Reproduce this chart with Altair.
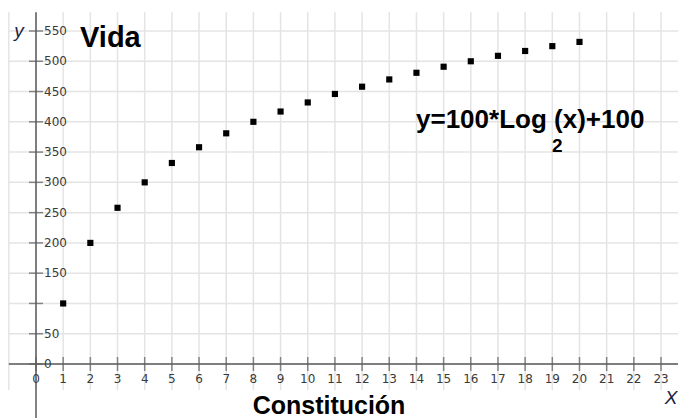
import altair as alt
import pandas as pd

# Data
x_vals = list(range(1, 21))
y_vals = [100, 200, 258, 300, 332, 358, 381, 400, 417, 432, 446, 458, 470, 481, 491, 500, 509, 517, 525, 532]

x_ticks = list(range(0, 24))
x_grid = list(range(-1, 24))
y_ticks = [0, 50, 100, 150, 200, 250, 300, 350, 400, 450, 500, 550]
y_labels = ["0", "50", "", "150", "200", "250", "300", "350", "400", "450", "500", "550"]

XD = [-1.3248, 23.625]
YD = [-89.2, 601.2]
xs = alt.Scale(domain=XD, nice=False, zero=False)
ys = alt.Scale(domain=YD, nice=False, zero=False)

pts = pd.DataFrame({"x": x_vals, "y": y_vals})
vg = pd.DataFrame({"x": x_grid, "y1": [581] * len(x_grid), "y2": [-43] * len(x_grid)})
hg = pd.DataFrame({"y": y_ticks, "x1": [-1] * len(y_ticks), "x2": [XD[1]] * len(y_ticks)})
xt = pd.DataFrame({"x": x_ticks, "lab": [str(v) for v in x_ticks], "y0": [0] * len(x_ticks)})
yt = pd.DataFrame({"y": y_ticks, "lab": y_labels, "x0": [0] * len(y_ticks)})

grid_c = "#e4e4e4"
ax_c = "#5a5a5a"

vgrid = alt.Chart(vg).mark_rule(color=grid_c, strokeWidth=1.5).encode(
    x=alt.X("x:Q", scale=xs, axis=None), y=alt.Y("y1:Q", scale=ys, axis=None), y2="y2:Q")
hgrid = alt.Chart(hg).mark_rule(color=grid_c, strokeWidth=1.5).encode(
    y=alt.Y("y:Q", scale=ys, axis=None), x=alt.X("x1:Q", scale=xs, axis=None), x2="x2:Q")

xaxis = alt.Chart(pd.DataFrame({"x1": [-1], "x2": [XD[1]], "y": [0]})).mark_rule(
    color=ax_c, strokeWidth=1.5).encode(
    x=alt.X("x1:Q", scale=xs, axis=None), x2="x2:Q", y=alt.Y("y:Q", scale=ys, axis=None))
yaxis = alt.Chart(pd.DataFrame({"y1": [581], "y2": [YD[0]], "x": [0]})).mark_rule(
    color=ax_c, strokeWidth=1.5).encode(
    y=alt.Y("y1:Q", scale=ys, axis=None), y2="y2:Q", x=alt.X("x:Q", scale=xs, axis=None))

xtick = alt.Chart(xt).mark_tick(color=ax_c, orient="vertical", size=14, thickness=1.5).encode(
    x=alt.X("x:Q", scale=xs, axis=None), y=alt.Y("y0:Q", scale=ys, axis=None))
ytick = alt.Chart(yt).mark_tick(color=ax_c, orient="horizontal", size=14, thickness=1.5).encode(
    y=alt.Y("y:Q", scale=ys, axis=None), x=alt.X("x0:Q", scale=xs, axis=None))

xlab = alt.Chart(xt).mark_text(font="DejaVu Sans", fontSize=12, color="#3a3a3a",
                               baseline="middle", dy=15).encode(
    x=alt.X("x:Q", scale=xs, axis=None), y=alt.Y("y0:Q", scale=ys, axis=None), text="lab:N")
ylab = alt.Chart(yt).mark_text(font="DejaVu Sans", fontSize=12, color="#3a3a3a",
                               baseline="middle", align="left", dx=8).encode(
    y=alt.Y("y:Q", scale=ys, axis=None), x=alt.X("x0:Q", scale=xs, axis=None), text="lab:N")

points = alt.Chart(pts).mark_square(color="black", size=38, opacity=1).encode(
    x=alt.X("x:Q", scale=xs, axis=None), y=alt.Y("y:Q", scale=ys, axis=None))

def label(txt, px, py, size, weight="bold", style="normal", align="left", color="black"):
    return alt.Chart(pd.DataFrame({"t": [txt]})).mark_text(
        font="Liberation Sans", fontSize=size, fontWeight=weight, fontStyle=style,
        align=align, baseline="middle", color=color).encode(
        x=alt.value(px), y=alt.value(py), text="t:N")

vida = label("Vida", 80, 38, 29)
const = label("Constitución", 329, 406, 25, align="center")
eq = label("y=100*Log (x)+100", 416, 120, 26)
sub = label("2", 552, 146, 19)
ylbl = label("y", 19, 31, 19, weight="normal", style="italic", align="center", color="#1c2340")
xlbl = label("X", 671, 398, 19, weight="normal", style="italic", align="center", color="#1c2340")

chart = alt.layer(vgrid, hgrid, xaxis, yaxis, xtick, ytick, xlab, ylab, points,
                  vida, const, eq, sub, ylbl, xlbl).properties(
    width=678, height=418, autosize=alt.AutoSizeParams(type="none"),
    padding=0, background="white"
).configure_view(stroke=None)

chart.save("out.html", embed_options={"renderer": "svg", "actions": False})
